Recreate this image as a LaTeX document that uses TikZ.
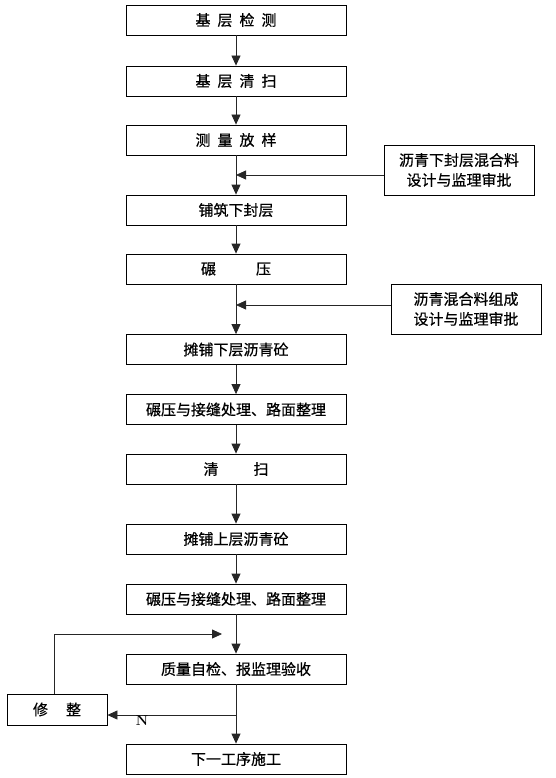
\documentclass[tikz,border=0pt]{standalone}
\usepackage{fontspec}
\newfontfamily\cjk[FakeBold=0.6]{Noto Sans CJK SC}
\usetikzlibrary{arrows.meta}

\begin{document}
\begin{tikzpicture}[x=1pt,y=-1pt,font=\cjk\fontsize{15}{20}\selectfont]
      \useasboundingbox (0,0) rectangle (555,778);
      \coordinate (origo) at (236,0);

      \tikzstyle{step box} = [
        rectangle,
        draw=black,
        line width=0.8pt,
        anchor=center,
        minimum width=220pt,
        minimum height=30pt,
        inner sep=0pt
      ]
      \tikzstyle{side box} = [
        step box,
        minimum width=150pt,
        minimum height=50pt,
        align=center
      ]
      \tikzstyle{fix box} = [
        step box,
        minimum width=100pt,
        minimum height=31pt
      ]

      \tikzstyle{arrow} = [line width=0.8pt,-{Triangle[length=10pt,width=9pt]}, draw=black!85]
      \tikzstyle{line} = [line width=0.8pt, draw=black!85]

      % main column
      \node[step box] (stepTest) at ([yshift=-20pt] origo) {基\hspace{7pt}层\hspace{7pt}检\hspace{7pt}测};
      \node[step box] (stepClean) at ([yshift=-81pt] origo) {基\hspace{7pt}层\hspace{7pt}清\hspace{7pt}扫};
      \node[step box] (stepSurvey) at ([yshift=-140pt] origo) {测\hspace{7pt}量\hspace{7pt}放\hspace{7pt}样};
      \node[step box] (stepSeal) at ([yshift=-210pt] origo) {铺筑下封层};
      \node[step box] (stepRoll) at ([yshift=-269pt] origo) {碾\hspace{40pt}压};
      \node[step box] (stepLower) at ([yshift=-349.5pt] origo) {摊铺下层沥青砼};
      \node[step box] (stepJointA) at ([yshift=-409.5pt] origo) {碾压与接缝处理、路面整理};
      \node[step box] (stepSweep) at ([yshift=-469pt] origo) {清\hspace{35pt}扫};
      \node[step box] (stepUpper) at ([yshift=-539pt] origo) {摊铺上层沥青砼};
      \node[step box] (stepJointB) at ([yshift=-599pt] origo) {碾压与接缝处理、路面整理};
      \node[step box] (stepCheck) at ([yshift=-669pt] origo) {质量自检、报监理验收};
      \node[step box] (stepNext) at ([yshift=-759pt] origo) {下一工序施工};

      % side inputs
      \node[side box] (sideSeal) at (459,170) {沥青下封层混合料\\设计与监理审批};
      \node[side box] (sideMix) at (466,309) {沥青混合料组成\\设计与监理审批};

      % repair
      \node[fix box] (fixBox) at (57,709.5) {修\hspace{18pt}整};

      \coordinate (joinSeal) at (236,175);
      \coordinate (joinMix) at (236,305);
      \coordinate (joinCheck) at (236,715);
      \coordinate (joinBack) at (222,634);

      % forward
      \draw[arrow] (stepTest) -- (stepClean);
      \draw[arrow] (stepClean) -- (stepSurvey);
      \draw[arrow] (stepSurvey) -- (stepSeal);
      \draw[arrow] (stepSeal) -- (stepRoll);
      \draw[arrow] (stepRoll) -- (stepLower);
      \draw[arrow] (stepLower) -- (stepJointA);
      \draw[arrow] (stepJointA) -- (stepSweep);
      \draw[arrow] (stepSweep) -- (stepUpper);
      \draw[arrow] (stepUpper) -- (stepJointB);
      \draw[arrow] (stepJointB) -- (stepCheck);
      \draw[line] (stepCheck) -- (joinCheck);
      \draw[arrow] (joinCheck) -- (stepNext);

      % inputs
      \draw[arrow] (sideSeal.west |- joinSeal) -- (joinSeal);
      \draw[arrow] (sideMix.west |- joinMix) -- (joinMix);

      % rework loop
      \draw[arrow] (joinCheck) -- (fixBox.east |- joinCheck);
      \node[font=\bfseries\fontsize{14}{14}\selectfont] (labelN) at (142,721) {N};
      \draw[arrow] ([xshift=-3pt] fixBox.north) |- (joinBack);
    \end{tikzpicture}
\end{document}
